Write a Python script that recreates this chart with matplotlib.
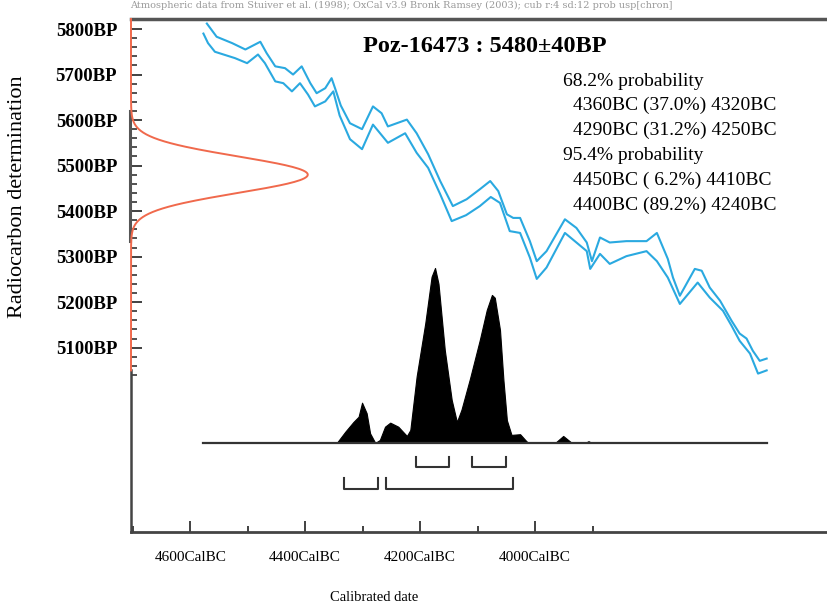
import numpy as np
import matplotlib
matplotlib.use("Agg")
import matplotlib.pyplot as plt
from matplotlib.transforms import blended_transform_factory

# measurement
lab_code = "Poz-16473"
bp_mean = 5480
bp_sd = 40

# calibration curve envelope (cal BC, BP)
upper_year = [4571, 4554, 4527, 4504, 4478, 4467, 4452, 4435, 4421, 4406, 4391, 4380, 4365, 4354,
              4348, 4338, 4322, 4301, 4282, 4267, 4256, 4223, 4206, 4186, 4165, 4143, 4119, 4096,
              4078, 4064, 4049, 4038, 4026, 4009, 3997, 3980, 3948, 3928, 3910, 3901, 3887, 3870,
              3841, 3806, 3788, 3769, 3760, 3748, 3722, 3710, 3696, 3678, 3658, 3644, 3632, 3621,
              3609, 3597]
upper_bp = [5812, 5783, 5769, 5755, 5772, 5747, 5718, 5714, 5700, 5718, 5681, 5659, 5670, 5692,
            5670, 5632, 5593, 5580, 5630, 5615, 5586, 5601, 5571, 5525, 5466, 5411, 5426, 5448,
            5466, 5444, 5393, 5385, 5385, 5334, 5290, 5312, 5382, 5363, 5331, 5290, 5342, 5331,
            5334, 5334, 5352, 5295, 5254, 5214, 5273, 5269, 5232, 5203, 5159, 5131, 5120, 5093,
            5071, 5076]
lower_year = [4577, 4569, 4557, 4522, 4501, 4482, 4470, 4452, 4438, 4423, 4409, 4395, 4383, 4365,
              4351, 4340, 4322, 4301, 4282, 4256, 4226, 4206, 4186, 4165, 4145, 4120, 4096, 4077,
              4061, 4044, 4026, 4009, 3997, 3980, 3948, 3928, 3910, 3904, 3887, 3870, 3841, 3806,
              3788, 3769, 3748, 3717, 3696, 3673, 3658, 3644, 3626, 3612, 3597]
lower_bp = [5790, 5769, 5750, 5736, 5725, 5744, 5725, 5685, 5681, 5663, 5681, 5656, 5630, 5641,
            5663, 5610, 5558, 5536, 5590, 5550, 5571, 5528, 5495, 5437, 5378, 5391, 5411, 5431,
            5418, 5356, 5352, 5298, 5251, 5276, 5352, 5331, 5312, 5273, 5306, 5284, 5301, 5312,
            5290, 5254, 5196, 5243, 5210, 5181, 5148, 5115, 5087, 5043, 5050]

# calibrated distribution (relative probability)
dist_year = [4345, 4330, 4316, 4307, 4301, 4293, 4287, 4278, 4270, 4261, 4252, 4238, 4223, 4217,
             4206, 4191, 4180, 4174, 4168, 4157, 4145, 4136, 4128, 4113, 4096, 4084, 4075, 4070,
             4061, 4055, 4049, 4041, 4026, 4017, 4012, 3965, 3951, 3936, 3913, 3907, 3901]
dist_prob = [0.0, 0.065, 0.12, 0.15, 0.23, 0.17, 0.055, 0.0, 0.017, 0.093, 0.116, 0.093, 0.04, 0.074,
             0.38, 0.684, 0.95, 1.0, 0.91, 0.53, 0.246, 0.12, 0.19, 0.37, 0.59, 0.76, 0.846, 0.83,
             0.646, 0.36, 0.13, 0.046, 0.05, 0.017, 0.0, 0.0, 0.04, 0.0, 0.0, 0.01, 0.0]
dist_start, dist_end = 4577, 3597

# ranges drawn as brackets
sigma1_ranges = [(4207, 4149), (4109, 4051)]
sigma2_ranges = [(4332, 4274), (4260, 4039)]

range_text = [("68.2% probability", 0),
              ("4360BC (37.0%) 4320BC", 1),
              ("4290BC (31.2%) 4250BC", 1),
              ("95.4% probability", 0),
              ("4450BC ( 6.2%) 4410BC", 1),
              ("4400BC (89.2%) 4240BC", 1)]

x_major = [4600, 4400, 4200, 4000]
x_minor = [4700, 4500, 4300, 4100, 3900]
y_major = [5100, 5200, 5300, 5400, 5500, 5600, 5700, 5800]

serif = "Liberation Serif"
blue = "#2aa9e0"
red = "#f0694c"
dark = "#444444"

fig = plt.figure(figsize=(8.27, 6.05), dpi=100)
ax = fig.add_axes([131 / 827, 1 - 532 / 605, 1 - 131 / 827, (532 - 19) / 605])
ax.set_xlim(4703, 3492)
ax.set_ylim(4695, 5822)

# calibration curve
ax.plot(upper_year, upper_bp, color=blue, lw=1.5)
ax.plot(lower_year, lower_bp, color=blue, lw=1.5)

# radiocarbon date as a normal curve on the y axis
ys = np.linspace(5050, 5822, 400)
gx = 0.254 * np.exp(-0.5 * ((ys - bp_mean) / bp_sd) ** 2)
trans = blended_transform_factory(ax.transAxes, ax.transData)
ax.plot([0.0, 0.0], [4695, 5050], color=dark, lw=1.8, transform=trans, clip_on=False, zorder=3)
ax.plot([-0.002, -0.002], [5335, 5620], color="#555555", lw=2.2, transform=trans, clip_on=False, zorder=3)
ax.plot(gx, ys, color=red, lw=1.4, transform=trans, clip_on=False, zorder=4)

# calibrated distribution on its own scale
ax2 = ax.twinx()
ax2.set_ylim(-0.509, 2.423)
ax2.axis("off")
for s in ax2.spines.values():
    s.set_visible(False)
ax2.fill_between(dist_year, 0, dist_prob, color="black", lw=0.8, edgecolor="black")
ax2.plot([dist_start, dist_end], [0, 0], color="#333333", lw=1.6)
for a, b in sigma1_ranges:
    ax2.plot([a, a, b, b], [-0.08, -0.137, -0.137, -0.08], color="#333333", lw=1.5)
for a, b in sigma2_ranges:
    ax2.plot([a, a, b, b], [-0.2, -0.263, -0.263, -0.2], color="#333333", lw=1.5)

# spines and ticks
ax.spines["right"].set_visible(False)
ax.spines["left"].set_visible(False)
ax.spines["top"].set_color("#555555")
ax.spines["top"].set_linewidth(2.5)
ax.spines["bottom"].set_color(dark)
ax.spines["bottom"].set_linewidth(2)

ax.set_xticks(x_major)
ax.set_xticks(x_minor, minor=True)
ax.set_xticklabels([f"{v}CalBC" for v in x_major], fontfamily=serif, fontsize=11)
ax.set_yticks(y_major)
ax.set_yticks(np.arange(5040, 5821, 20), minor=True)
ax.set_yticklabels([f"{v}BP" for v in y_major], fontfamily=serif, fontsize=13.5, fontweight="bold")
ax.tick_params(axis="both", which="both", direction="in", color="#333333")
ax.tick_params(axis="x", which="major", length=8, width=1.3, pad=14)
ax.tick_params(axis="x", which="minor", length=4, width=1.3)
ax.tick_params(axis="y", which="major", length=8, width=1.3, pad=10)
ax.tick_params(axis="y", which="minor", length=4, width=1.2)

ax.set_xlabel("Calibrated date", fontfamily=serif, fontsize=10.5)
ax.xaxis.set_label_coords((374 - 131) / 696, -0.115)
ax.set_ylabel("Radiocarbon determination", fontfamily=serif, fontsize=16)
ax.yaxis.set_label_coords(-0.15, (532 - 197) / 513)

# texts
fig.text(130 / 827, 1 - 5 / 605,
         "Atmospheric data from Stuiver et al. (1998); OxCal v3.9 Bronk Ramsey (2003); cub r:4 sd:12 prob usp[chron]",
         fontfamily="DejaVu Serif", fontsize=7, color="#999999", va="center")
fig.text(485 / 827, 1 - 46 / 605, f"{lab_code} : {bp_mean}\u00b1{bp_sd}BP",
         fontfamily=serif, fontsize=17.5, fontweight="bold", ha="center", va="center")
for i, (line, indent) in enumerate(range_text):
    fig.text((563 + 10 * indent) / 827, 1 - (81 + 24.8 * i) / 605, line, fontfamily=serif,
             fontsize=14, va="center")

fig.savefig("out.png", dpi=100)
